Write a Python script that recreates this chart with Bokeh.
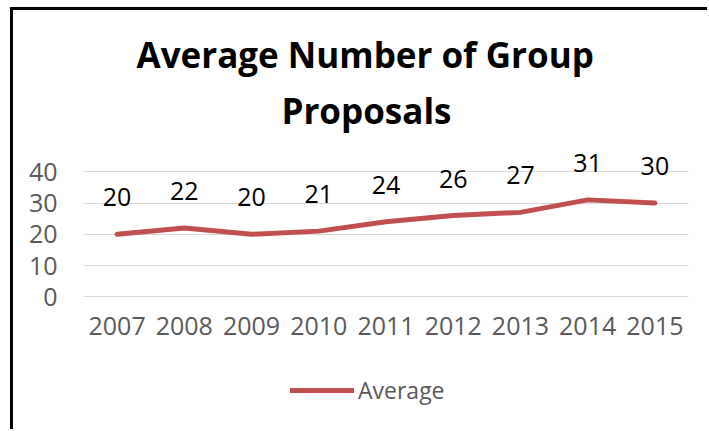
from bokeh.plotting import figure
from bokeh.models import (ColumnDataSource, LabelSet, Legend, LegendItem, Title,
                          FixedTicker, Range1d)
from bokeh.core.properties import value
from bokeh.embed import file_html
from bokeh.resources import INLINE

# ---- data ----
years = ["2007", "2008", "2009", "2010", "2011", "2012", "2013", "2014", "2015"]
average = [20, 22, 20, 21, 24, 26, 27, 31, 30]
y_ticks = [0, 10, 20, 30, 40]
title_line1 = "Average Number of Group"
title_line2 = "Proposals"
series_name = "Average"

source = ColumnDataSource(dict(year=years, avg=average,
                               label=[str(v) for v in average]))

FONT = "Open Sans"
GRAY = "#595959"
RED = "#C0504D"

# frame spans from just under the title down to the legend; the x axis is
# pinned at y = 0 so the 0..40 grid sits where the reference draws it
p = figure(x_range=years, y_range=Range1d(-38, 50),
           frame_width=605, frame_height=275,
           output_backend="svg", toolbar_location=None, title=None,
           min_border_left=70, min_border_right=19, min_border_top=130,
           min_border_bottom=14)
p.styles = {"border-left": "3px solid black", "border-top": "3px solid black",
            "margin-left": "10px", "margin-top": "7px"}
p.outline_line_color = None
p.background_fill_color = "white"
p.border_fill_color = "white"

line = p.line("year", "avg", source=source, line_color=RED, line_width=5,
              line_join="round", line_cap="round")

labels = LabelSet(x="year", y="avg", text="label", source=source,
                  text_align="center", text_baseline="alphabetic", y_offset=28,
                  text_font=value(FONT), text_font_size="25px",
                  text_color="#000000")
p.add_layout(labels)

# axes
p.yaxis.ticker = FixedTicker(ticks=y_ticks)
p.xaxis.fixed_location = 0
for ax in (p.xaxis, p.yaxis):
    ax.axis_line_color = None
    ax.major_tick_line_color = None
    ax.minor_tick_line_color = None
    ax.major_label_text_font = FONT
    ax.major_label_text_font_size = "25px"
    ax.major_label_text_color = GRAY
p.yaxis.major_label_standoff = 20
p.xaxis.major_label_standoff = 14
p.xgrid.grid_line_color = None
p.ygrid.grid_line_color = "#D9D9D9"
p.ygrid.grid_line_width = 1

# legend under the axis labels
legend = Legend(items=[LegendItem(label=series_name, renderers=[line])],
                orientation="horizontal", location=(207, 9),
                glyph_width=64, glyph_height=20, label_height=20,
                label_standoff=4, label_text_font=FONT,
                label_text_font_size="23px", label_text_color=GRAY,
                border_line_color=None, background_fill_alpha=0,
                margin=0, padding=0)
p.add_layout(legend)

# titles (first added sits closest to the plot)
p.add_layout(Title(text=title_line2, align="left", offset=198, standoff=14,
                   text_font=FONT, text_font_size="35px",
                   text_font_style="bold", text_color="#000000"), "above")
p.add_layout(Title(text=title_line1, align="left", offset=53, standoff=0,
                   text_font=FONT, text_font_size="35px",
                   text_font_style="bold", text_color="#000000"), "above")

open("out.html", "w").write(file_html(p, INLINE))
